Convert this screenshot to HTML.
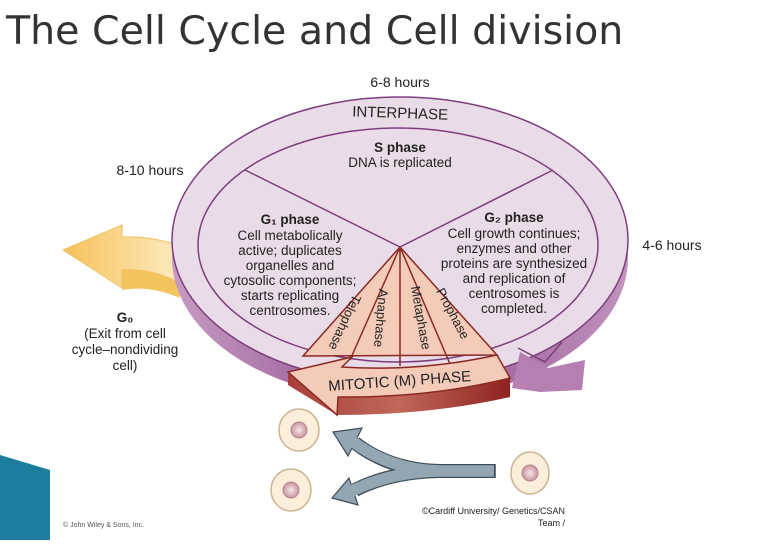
<!DOCTYPE html>
<html><head><style>
body{margin:0;width:780px;height:540px;background:#fff;overflow:hidden;font-family:"Liberation Sans",sans-serif;}
</style></head><body>
<svg width="780" height="540" viewBox="0 0 780 540" xmlns="http://www.w3.org/2000/svg">
<defs>
<linearGradient id="side" x1="0" y1="0" x2="1" y2="0">
<stop offset="0" stop-color="#c69bc3"/><stop offset="0.5" stop-color="#8e4c8a"/><stop offset="1" stop-color="#c193be"/>
</linearGradient>
<linearGradient id="yel" x1="0" y1="0" x2="1" y2="0">
<stop offset="0" stop-color="#f6c25a"/><stop offset="1" stop-color="#fde9bf"/>
</linearGradient>
<linearGradient id="red" x1="0" y1="0" x2="1" y2="0">
<stop offset="0" stop-color="#a8403a"/><stop offset="0.5" stop-color="#c0675a"/><stop offset="1" stop-color="#8e2320"/>
</linearGradient>
<radialGradient id="nuc"><stop offset="0" stop-color="#f4e6ea"/><stop offset="1" stop-color="#c9959c"/></radialGradient>
</defs>
<text x="6" y="44" font-family="DejaVu Sans, sans-serif" font-size="39.5" fill="#333">The Cell Cycle and Cell division</text>
<polygon points="0,455 50,470 50,540 0,540" fill="#1d7d9e"/>
<path d="M122,270 Q150,268 178,282 L180,298 Q150,285 122,290 Z" fill="#f3c35d"/>
<path d="M63,250 L122,225 L122,237 Q150,236 178,245 L178,282 Q150,268 122,270 L122,288 Z" fill="url(#yel)" stroke="#efc060"/>
<ellipse cx="400" cy="258" rx="228" ry="143" fill="url(#side)"/>
<ellipse cx="400" cy="240" rx="228" ry="143" fill="#eadbe8" stroke="#7d3f7b" stroke-width="1.5"/>
<polygon points="520,352 548,368 585,360 582,390 540,392 512,388" fill="#b57fb2"/>
<ellipse cx="398" cy="245" rx="200" ry="117" fill="#eadbe8" stroke="#7d3f7b" stroke-width="1.5"/>
<path d="M518 348 L545 362 L562 342" fill="none" stroke="#7d3f7b" stroke-width="1.5"/>
<line x1="400" y1="247" x2="245" y2="170" stroke="#7d3f7b" stroke-width="1.5"/>
<line x1="400" y1="247" x2="553" y2="170" stroke="#7d3f7b" stroke-width="1.5"/>
<path d="M288,372 L288,385 L337,415 Q430,415 510,397 L510,378 Z" fill="url(#red)"/>
<path d="M303,356 L400,247 L497,355 Z" fill="#f4cbb8" stroke="#8a2a22" stroke-width="1.5"/>
<line x1="400" y1="247" x2="350" y2="360" stroke="#8a2a22" stroke-width="1.5"/>
<line x1="400" y1="247" x2="400" y2="366" stroke="#8a2a22" stroke-width="1.5"/>
<line x1="400" y1="247" x2="450" y2="364" stroke="#8a2a22" stroke-width="1.5"/>
<path d="M352,357 L342,367 Q420,372 497,355 L510,378 Q430,398 338,397 L337,415 L288,372 Z" fill="#f4cbb8" stroke="#8a2a22" stroke-width="1.5"/>
<text transform="translate(344,322) rotate(115)" font-size="13" fill="#222" text-anchor="middle" dominant-baseline="middle">Telophase</text>
<text transform="translate(380,318) rotate(95)" font-size="13" fill="#222" text-anchor="middle" dominant-baseline="middle">Anaphase</text>
<text transform="translate(420,318) rotate(80)" font-size="13" fill="#222" text-anchor="middle" dominant-baseline="middle">Metaphase</text>
<text transform="translate(452,314) rotate(62)" font-size="13" fill="#222" text-anchor="middle" dominant-baseline="middle">Prophase</text>
<text transform="translate(400,386) rotate(-4)" font-size="15" fill="#222" text-anchor="middle">MITOTIC (M) PHASE</text>
<g font-size="13.5" fill="#222" text-anchor="middle">
<text x="400" y="87" font-size="14">6-8 hours</text>
<text transform="translate(400,118) rotate(2)" font-size="15">INTERPHASE</text>
<text x="400" y="152" font-weight="bold">S phase</text>
<text x="400" y="167">DNA is replicated</text>
<text x="290" y="224" font-weight="bold">G₁ phase</text>
<text x="290" y="240">Cell metabolically</text>
<text x="290" y="255">active; duplicates</text>
<text x="290" y="270">organelles and</text>
<text x="290" y="285">cytosolic components;</text>
<text x="290" y="300">starts replicating</text>
<text x="290" y="315">centrosomes.</text>
<text x="514" y="222" font-weight="bold">G₂ phase</text>
<text x="514" y="238">Cell growth continues;</text>
<text x="514" y="253">enzymes and other</text>
<text x="514" y="268">proteins are synthesized</text>
<text x="514" y="283">and replication of</text>
<text x="514" y="298">centrosomes is</text>
<text x="514" y="313">completed.</text>
<text x="150" y="175" font-size="14">8-10 hours</text>
<text x="672" y="250" font-size="14">4-6 hours</text>
<text x="125" y="322" font-weight="bold">G₀</text>
<text x="125" y="338">(Exit from cell</text>
<text x="125" y="354">cycle–nondividing</text>
<text x="125" y="370">cell)</text>
</g>
<g stroke="#c9b48f" stroke-width="1.5" fill="#fbefdc">
<ellipse cx="299" cy="430" rx="20" ry="21"/>
<ellipse cx="291" cy="490" rx="20" ry="21"/>
<ellipse cx="530" cy="473" rx="19" ry="21"/>
</g>
<circle cx="299" cy="430" r="8" fill="url(#nuc)" stroke="#b98690"/>
<circle cx="291" cy="490" r="8" fill="url(#nuc)" stroke="#b98690"/>
<circle cx="530" cy="473" r="8" fill="url(#nuc)" stroke="#b98690"/>
<!-- grey split arrow -->
<g fill="none" stroke="#3f4f58" stroke-width="14">
<path d="M495,471 L440,471 Q390,470 355,443"/>
<path d="M440,471 Q390,472 355,490"/>
</g>
<line x1="495" y1="464" x2="495" y2="478" stroke="#3f4f58" stroke-width="1.5"/>
<polygon points="333,432 362,428 348,456" fill="#93a6b1" stroke="#3f4f58" stroke-width="1.2"/>
<polygon points="332,498 358,505 349,478" fill="#93a6b1" stroke="#3f4f58" stroke-width="1.2"/>
<g fill="none" stroke="#93a6b1" stroke-width="11.5">
<path d="M494,471 L440,471 Q390,470 352,441"/>
<path d="M440,471 Q390,472 352,491"/>
</g>
<text x="63" y="527" font-size="7" fill="#555">© John Wiley &amp; Sons, Inc.</text>
<text x="565" y="514" font-size="9" fill="#222" text-anchor="end">©Cardiff University/ Genetics/CSAN</text>
<text x="565" y="526" font-size="9" fill="#222" text-anchor="end">Team /</text>
</svg>
</body></html>
